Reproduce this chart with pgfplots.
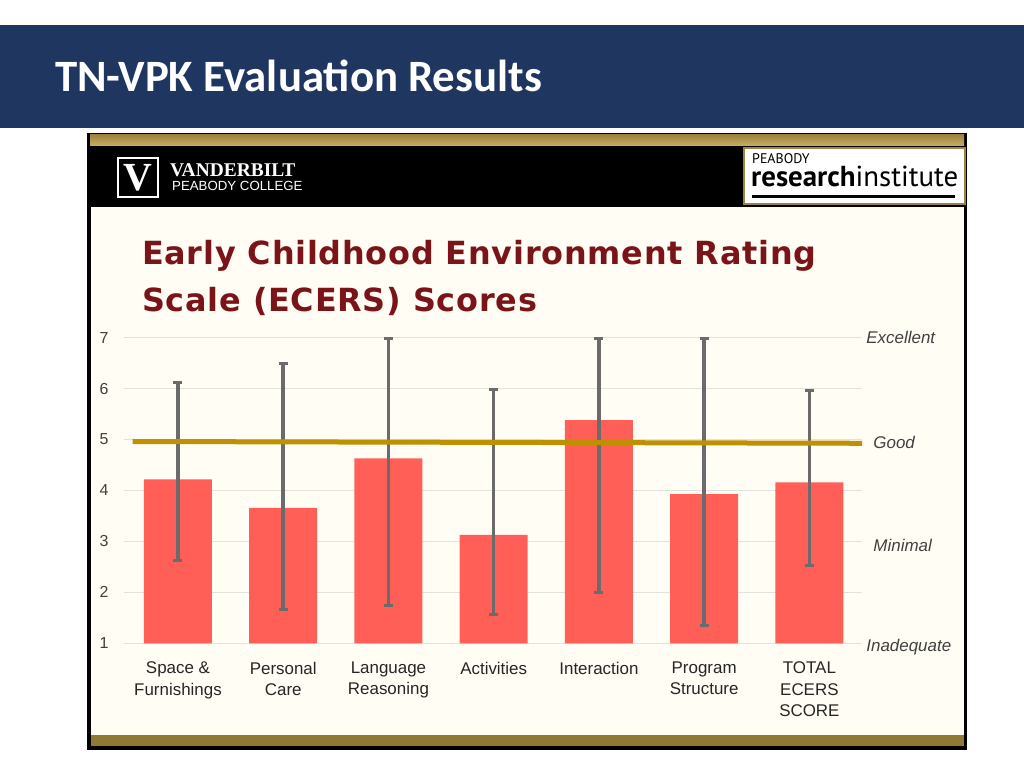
\documentclass[border=0pt]{standalone}
\usepackage{fontspec}
\setmainfont{Liberation Sans}
\newfontfamily\carlito{Carlito}
\newfontfamily\dejavuW[LetterSpace=2.4]{DejaVu Sans}
\newfontfamily\ptsans{PT Sans}
\newfontfamily\lserif{Liberation Serif}
\usepackage{pgfplots}
\pgfplotsset{compat=1.18}
\definecolor{navy}{HTML}{1F3760}
\definecolor{cream}{HTML}{FFFDF4}
\definecolor{barred}{HTML}{FF5F57}
\definecolor{goldline}{HTML}{BF9000}
\definecolor{errgray}{HTML}{6B6B6B}
\definecolor{gridgray}{HTML}{E3E3DE}
\definecolor{maroonT}{HTML}{7A1418}
\definecolor{goldA}{HTML}{9E8440}
\definecolor{goldB}{HTML}{C9AE66}
\definecolor{goldC}{HTML}{8F7A35}
\definecolor{labgray}{HTML}{404040}
\begin{document}
\begin{tikzpicture}[x=1bp,y=1bp]
\path[use as bounding box, fill=white] (0,0) rectangle (1024,768);
% slide header
\fill[navy] (0,640) rectangle (1024,743);
\node[anchor=base west, text=white, inner sep=0, font=\carlito\bfseries\fontsize{45}{54}\selectfont] at (55,676) {TN-VPK Evaluation Results};
% picture frame
\fill[black] (87,18) rectangle (967,635);
\shade[top color=goldA, bottom color=goldB] (90,622) rectangle (964,633);
\fill[cream] (91,33) rectangle (964,561);
\fill[goldC] (91,22) rectangle (964,33);
% left logo
\draw[white, line width=1.5bp] (118,571) rectangle (158,610);
\node[text=white, inner sep=0, font=\lserif\bfseries\fontsize{40}{40}\selectfont] at (138,590) {V};
\node[anchor=base west, text=white, inner sep=0, font=\lserif\bfseries\fontsize{19.5}{19.5}\selectfont] at (170,591) {VANDERBILT};
\node[anchor=base west, text=white, inner sep=0, font=\fontsize{13.3}{13.3}\selectfont] at (172,577) {PEABODY COLLEGE};
% right logo
\fill[white] (743,563) rectangle (966,621);
\draw[goldA, line width=2bp] (744,564) rectangle (965,620);
\node[anchor=base west, inner sep=0, font=\ptsans\fontsize{14}{14}\selectfont] at (752,604) {PEABODY};
\node[anchor=base west, inner sep=0, font=\ptsans\fontsize{29}{29}\selectfont] at (751,581) {\textbf{research}institute};
\draw[black, line width=3bp] (752,571) -- (955,571);
% chart title
\node[anchor=base west, text=maroonT, inner sep=0, font=\dejavuW\bfseries\fontsize{32}{32}\selectfont] at (142,503) {Early Childhood Environment Rating};
\node[anchor=base west, text=maroonT, inner sep=0, font=\dejavuW\bfseries\fontsize{32}{32}\selectfont] at (142,456.3) {Scale (ECERS) Scores};
% chart
\begin{axis}[
  at={(124bp,124.7bp)}, anchor=south west,
  scale only axis, width=738bp, height=305.6bp,
  xmin=-0.513, xmax=6.5, ymin=1, ymax=7,
  clip=false,
  axis line style={draw=none},
  major tick length=0pt,
  ymajorgrids, grid style={gridgray, line width=1.2bp},
  ytick={1,2,3,4,5,6,7},
  /pgf/number format/assume math mode=true,
  yticklabel style={font=\fontsize{16}{16}\selectfont, text=labgray, xshift=-12bp},
  xtick={0,1,2,3,4,5,6},
  xticklabels={{Space \&\\Furnishings},{Personal\\Care},{Language\\Reasoning},{Activities},{Interaction},{Program\\Structure},{TOTAL\\ECERS\\SCORE}},
  xticklabel style={font=\fontsize{17}{21.5}\selectfont, text=black!85, align=center, anchor=north, yshift=-15bp},
]
\addplot[ybar, bar width=68bp, fill=barred, draw=none,
  error bars/.cd, y dir=both, y explicit,
  error bar style={line width=3.5bp, errgray},
  error mark options={rotate=90, line width=3bp, mark size=4.5bp, errgray}]
coordinates {
(0,4.22) += (0,1.90) -= (0,1.60)
(1,3.66) += (0,2.84) -= (0,1.99)
(2,4.63) += (0,2.36) -= (0,2.89)
(3,3.13) += (0,2.86) -= (0,1.56)
(4,5.38) += (0,1.61) -= (0,3.38)
(5,3.93) += (0,3.06) -= (0,2.58)
(6,4.16) += (0,1.81) -= (0,1.64)
};
\addplot[goldline, line width=5bp] coordinates {(-0.43,4.962) (6.5,4.927)};
\node[anchor=west, inner sep=0, font=\itshape\fontsize{17}{17}\selectfont, text=labgray] at (axis cs:6.54,7) {Excellent};
\node[anchor=west, inner sep=0, font=\itshape\fontsize{17}{17}\selectfont, text=labgray] at (axis cs:6.607,4.94) {Good};
\node[anchor=west, inner sep=0, font=\itshape\fontsize{17}{17}\selectfont, text=labgray] at (axis cs:6.607,2.92) {Minimal};
\node[anchor=west, inner sep=0, font=\itshape\fontsize{17}{17}\selectfont, text=labgray] at (axis cs:6.54,0.93) {Inadequate};
\end{axis}
\end{tikzpicture}
\end{document}
